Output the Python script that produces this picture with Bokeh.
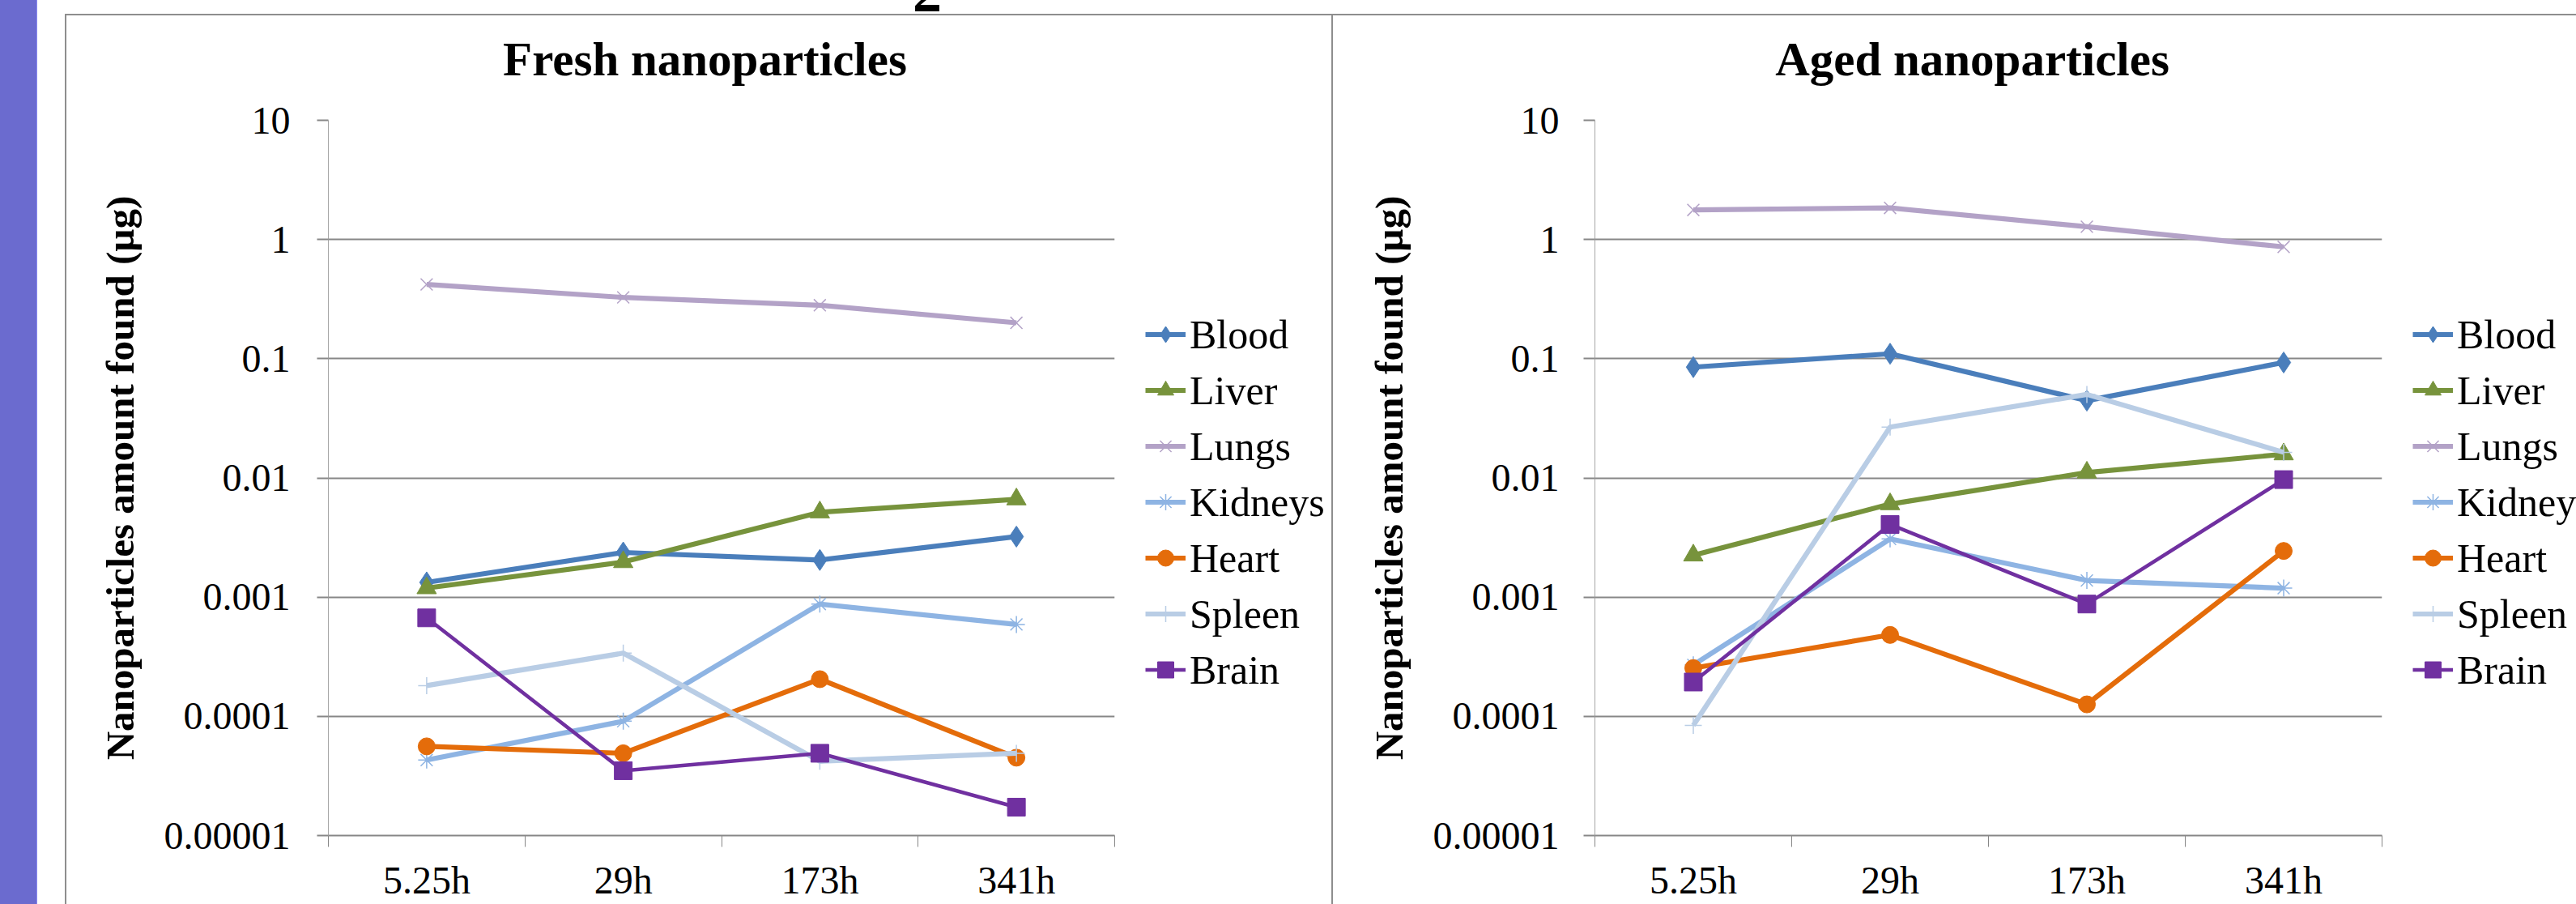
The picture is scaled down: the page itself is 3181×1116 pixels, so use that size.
from bokeh.plotting import figure
from bokeh.layouts import row, column
from bokeh.models import Range1d, FixedTicker, Legend, LegendItem, Div
from bokeh.core.properties import value
from bokeh.embed import file_html
from bokeh.resources import INLINE

# ---------------- data ----------------
times = ["5.25h", "29h", "173h", "341h"]
organs = ["Blood", "Liver", "Lungs", "Kidneys", "Heart", "Spleen", "Brain"]

fresh_blood = [0.00133, 0.00237, 0.00205, 0.00322]
fresh_liver = [0.00119, 0.00197, 0.00515, 0.00662]
fresh_lungs = [0.42, 0.327, 0.281, 0.20]
fresh_kidneys = [4.3e-5, 9.1e-5, 8.75e-4, 5.9e-4]
fresh_heart = [5.6e-5, 4.9e-5, 2.05e-4, 4.5e-5]
fresh_spleen = [1.81e-4, 3.39e-4, 4.2e-5, 4.9e-5]
fresh_brain = [6.7e-4, 3.5e-5, 4.9e-5, 1.73e-5]

aged_blood = [0.085, 0.110, 0.0445, 0.093]
aged_liver = [0.00224, 0.00603, 0.0111, 0.0158]
aged_lungs = [1.77, 1.84, 1.28, 0.867]
aged_kidneys = [2.7e-4, 3.08e-3, 1.38e-3, 1.19e-3]
aged_heart = [2.54e-4, 4.82e-4, 1.26e-4, 2.44e-3]
aged_spleen = [8.4e-5, 0.0267, 0.0502, 0.0164]
aged_brain = [1.94e-4, 4.07e-3, 8.75e-4, 9.68e-3]

y_ticks = [1e-5, 1e-4, 1e-3, 1e-2, 1e-1, 1, 10]
y_tick_labels = ["0.00001", "0.0001", "0.001", "0.01", "0.1", "1", "10"]

titles = ["Fresh nanoparticles", "Aged nanoparticles"]
y_title = "Nanoparticles amount found (µg)"

fresh = [fresh_blood, fresh_liver, fresh_lungs, fresh_kidneys, fresh_heart, fresh_spleen, fresh_brain]
aged = [aged_blood, aged_liver, aged_lungs, aged_kidneys, aged_heart, aged_spleen, aged_brain]

# ---------------- styles ----------------
colors = ["#4A7EBB", "#77933C", "#B3A2C7", "#8EB4E3", "#E46C0A", "#B9CDE5", "#7030A0"]
markers = ["diamond", "triangle", "x", "asterisk", "circle", "cross", "square"]
msizes = [26, 24, 21, 21, 21, 21, 22]
mlw = [1, 1, 1.5, 1.5, 1, 1.5, 1]
lws = [6.2, 6.2, 6.2, 6.2, 6.2, 6.2, 4.5]

FONT = "Liberation Serif"
GRID = "#878787"
BORDER = "#8E8E8E"
PURPLE = "#6B6BCF"
PURPLE_EDGE = "#8C8CF2"

TOTAL_W, TOTAL_H = 3181, 1116
TOP_H = 19
PANEL_H = TOTAL_H - TOP_H      # 1097
TITLE_H = 100
FIG_H = PANEL_H - TITLE_H      # 997
FRAME_H = 883
B_TOP = 29
B_BOTTOM = FIG_H - B_TOP - FRAME_H   # 85
B_LEFT = 323
B_RIGHT = 10
xs = [i + 0.5 for i in range(len(times))]


def plain(f):
    f.outline_line_color = None
    f.grid.visible = False
    f.background_fill_color = "white"
    f.border_fill_color = "white"
    return f


def title_fig(text, frame_w, cx):
    f = figure(width=B_LEFT + frame_w + B_RIGHT, height=TITLE_H, output_backend="svg",
               toolbar_location=None, x_axis_location=None, y_axis_location=None,
               min_border_left=B_LEFT, min_border_right=B_RIGHT, min_border_top=0,
               min_border_bottom=0, x_range=Range1d(0, frame_w), y_range=Range1d(0, TITLE_H))
    plain(f)
    f.text(x=[cx], y=[47], text=[text], text_font=value(FONT), text_font_style="bold",
           text_font_size="59px", text_align="center", text_baseline="middle",
           text_color="black")
    return f


def make_panel(series, frame_w, tick_standoff):
    p = figure(width=B_LEFT + frame_w + B_RIGHT, height=FIG_H, output_backend="svg",
               toolbar_location=None, y_axis_type="log", x_range=Range1d(0, len(times)),
               y_range=Range1d(y_ticks[0], y_ticks[-1]),
               min_border_left=B_LEFT, min_border_right=B_RIGHT,
               min_border_top=B_TOP, min_border_bottom=B_BOTTOM)
    p.outline_line_color = None
    for k in range(len(organs)):
        p.line(xs, series[k], line_color=colors[k], line_width=lws[k], line_join="round")
        p.scatter(xs, series[k], marker=markers[k], size=msizes[k], fill_color=colors[k],
                  line_color=colors[k], line_width=mlw[k])

    # x axis (labels centred in categories, tick marks between them)
    xa = p.xaxis[0]
    xa.ticker = FixedTicker(ticks=xs, minor_ticks=list(range(len(times) + 1)))
    xa.major_label_overrides = {x: t for x, t in zip(xs, times)}
    xa.major_tick_line_color = None
    xa.major_tick_out = 0
    xa.major_tick_in = 0
    xa.minor_tick_in = 0
    xa.minor_tick_out = 14
    xa.minor_tick_line_color = GRID
    xa.minor_tick_line_width = 1
    xa.axis_line_color = GRID
    xa.axis_line_width = 2
    xa.major_label_standoff = 14
    xa.major_label_text_font = FONT
    xa.major_label_text_font_size = "48px"
    xa.major_label_text_color = "black"

    # y axis
    ya = p.yaxis[0]
    ya.ticker = FixedTicker(ticks=y_ticks)
    ya.major_label_overrides = {v: s for v, s in zip(y_ticks, y_tick_labels)}
    ya.major_tick_out = 14
    ya.major_tick_in = 0
    ya.major_tick_line_color = GRID
    ya.major_tick_line_width = 2
    ya.minor_tick_line_color = None
    ya.axis_line_color = "#A6A6A6"
    ya.axis_line_width = 1
    ya.major_label_standoff = tick_standoff
    ya.major_label_text_font = FONT
    ya.major_label_text_font_size = "48px"
    ya.major_label_text_color = "black"
    ya.axis_label = y_title
    ya.axis_label_text_font = FONT
    ya.axis_label_text_font_style = "bold"
    ya.axis_label_text_font_size = "49px"
    ya.axis_label_text_color = "black"
    ya.axis_label_standoff = 24

    p.xgrid.visible = False
    p.ygrid.grid_line_color = GRID
    p.ygrid.grid_line_width = 2
    return p


def legend_fig(series, width):
    # same series drawn outside the visible range: only the legend shows
    f = figure(width=width, height=FIG_H, output_backend="svg", toolbar_location=None,
               x_axis_location=None, y_axis_location=None,
               min_border_left=0, min_border_right=0,
               min_border_top=B_TOP, min_border_bottom=B_BOTTOM,
               x_range=Range1d(100, 101), y_range=Range1d(100, 101))
    plain(f)
    items = []
    for k, organ in enumerate(organs):
        lr = f.line(xs, series[k], line_color=colors[k], line_width=lws[k])
        sr = f.scatter(xs, series[k], marker=markers[k], fill_color=colors[k],
                       line_color=colors[k], line_width=mlw[k])
        items.append(LegendItem(label=organ, renderers=[lr, sr]))
    leg = Legend(items=items, location=(28, 170), padding=0, margin=0, spacing=0,
                 glyph_width=50, glyph_height=69, label_height=69, label_standoff=5,
                 border_line_color=None, background_fill_alpha=0,
                 label_text_font=FONT, label_text_font_size="50px", label_text_color="black")
    f.add_layout(leg)
    return f


def box(w, h, color):
    return Div(text="", width=w, height=h, margin=0, styles={"background-color": color})


STRIP_W = 46
GAP_W = 34
FW1, FW2 = 971, 972
W1 = B_LEFT + FW1 + B_RIGHT          # 1304
W2 = B_LEFT + FW2 + B_RIGHT          # 1305
L1 = 1644 - (STRIP_W + GAP_W + 2 + W1)   # 258
L2 = TOTAL_W - (1646 + W2)               # 230

p1 = make_panel(fresh, FW1, 33)
p2 = make_panel(aged, FW2, 30)
t1 = title_fig(titles[0], FW1, 465)
t2 = title_fig(titles[1], FW2, 466)
lf1 = legend_fig(fresh, L1)
lf2 = legend_fig(aged, L2)

INNER_W = TOTAL_W - STRIP_W
top_html = (
    f'<div style="position:relative;width:{INNER_W}px;height:{TOP_H}px;overflow:hidden;">'
    f'<div style="position:absolute;left:{GAP_W}px;top:17px;width:{INNER_W - GAP_W}px;'
    f'height:2px;background:{BORDER};"></div>'
    '<span style="position:absolute;left:1081px;top:-46px;font-family:\'Liberation Serif\';'
    'font-weight:bold;font-size:72px;line-height:1;color:black;">2</span></div>'
)
top = Div(text=top_html, width=INNER_W, height=TOP_H, margin=0)

panel1 = row(column(t1, p1, spacing=0), column(box(L1, TITLE_H, "white"), lf1, spacing=0), spacing=0)
panel2 = row(column(t2, p2, spacing=0), column(box(L2, TITLE_H, "white"), lf2, spacing=0), spacing=0)

panels = row(box(GAP_W, PANEL_H, "white"), box(2, PANEL_H, BORDER), panel1,
             box(2, PANEL_H, BORDER), panel2, spacing=0)

strip = row(box(STRIP_W - 1, TOTAL_H, PURPLE), box(1, TOTAL_H, PURPLE_EDGE), spacing=0)
layout = row(strip, column(top, panels, spacing=0), spacing=0)
open("out.html", "w").write(file_html(layout, INLINE))
